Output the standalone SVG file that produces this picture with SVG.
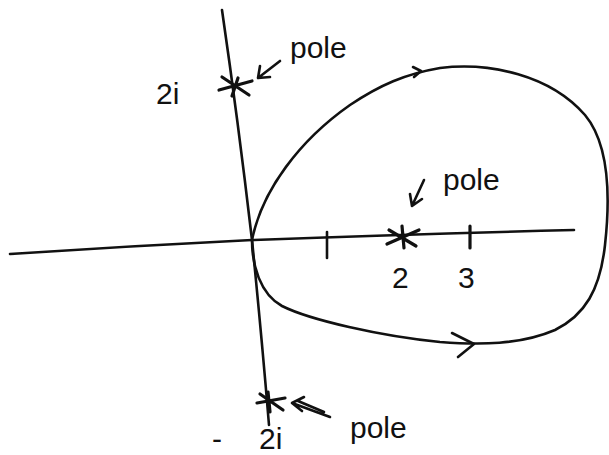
<svg xmlns="http://www.w3.org/2000/svg" width="609" height="455" viewBox="0 0 609 455">
<style>
.ln{fill:none;stroke:#111;stroke-width:2.6;stroke-linecap:round;stroke-linejoin:round}
.th{stroke-width:3.2}
.t{font-family:"Liberation Sans","DejaVu Sans",sans-serif;font-size:30px;fill:#111}
</style>
<rect width="609" height="455" fill="#fff"/>
<g id="axes">
<path class="ln" d="M10,254 Q130,246 252,240 Q420,234 574,230"/>
<path class="ln" d="M222,10 Q238,120 252,240 Q262,340 269,425"/>
<path class="ln" d="M327,232 L327,258"/>
<path class="ln th" d="M470,226 L470,248"/>
</g>
<g id="connectors">
<path class="ln" d="M252,240 C262,190 300,140 350,105 C380,85 405,74 440,68 C490,62 550,75 585,115 C610,145 610,200 605,245 C600,290 585,315 555,330 C520,345 480,345 440,342 C380,336 310,320 282,306 C260,294 252,265 252,240"/>
<path class="ln" d="M413,67 L421,71 L414,77"/>
<path class="ln" d="M452,333 L474,344 L458,357"/>
<path class="ln" d="M280,61 L258,78 M258,78 L260,66 M258,78 L270,77"/>
<path class="ln" d="M424,180 L412,206 M412,206 L410,194 M412,206 L422,199"/>
<path class="ln" d="M330,417 L292,403 L304,397 M292,403 L302,411 M324,412 L298,401"/>
</g>
<g id="pole-2i">
<path class="ln th" d="M219,90 L252,81 M222,77 L249,95 M238,78 L232,96"/>
<text class="t" x="156" y="104">2i</text>
<text class="t" x="290" y="58">pole</text>
</g>
<g id="pole-2">
<path class="ln th" d="M387,244 L419,230 M389,230 L416,246 M402,226 L404,248"/>
<text class="t" x="392" y="288">2</text>
<text class="t" x="458" y="288">3</text>
<text class="t" x="443" y="190">pole</text>
</g>
<g id="pole-minus-2i">
<path class="ln th" d="M257,403 L285,398 M260,394 L283,410 M268,392 L270,412"/>
<text class="t" x="212" y="449" font-size="36">-</text>
<text class="t" x="259" y="449">2i</text>
<text class="t" x="350" y="438">pole</text>
</g>
</svg>
